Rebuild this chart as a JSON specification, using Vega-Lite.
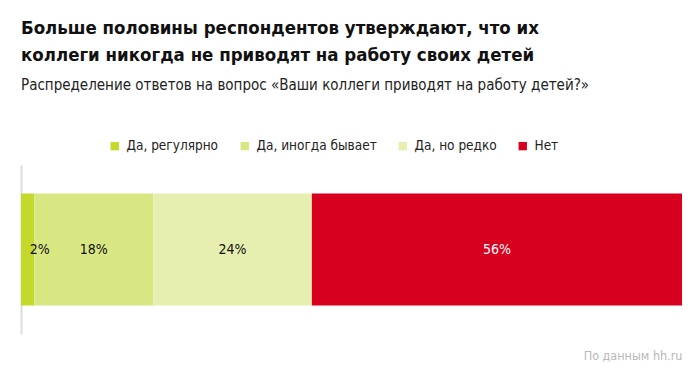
{
  "$schema": "https://vega.github.io/schema/vega-lite/v6.json",
  "width": 661,
  "height": 169,
  "autosize": {"type": "none"},
  "padding": {"left": 21, "top": 165, "right": 18, "bottom": 42},
  "background": "white",
  "config": {
    "view": {"stroke": null},
    "font": "DejaVu Sans Condensed, sans-serif"
  },
  "title": {
    "text": ["Больше половины респондентов утверждают, что их", "коллеги никогда не приводят на работу своих детей"],
    "subtitle": "Распределение ответов на вопрос «Ваши коллеги приводят на работу детей?»",
    "anchor": "start",
    "frame": "group",
    "fontSize": 18.5,
    "fontWeight": "bold",
    "lineHeight": 27,
    "color": "#111111",
    "subtitleFontSize": 15,
    "subtitleColor": "#222222",
    "subtitlePadding": 14,
    "offset": 46
  },
  "data": {
    "values": [
      {"q": "a", "answer": "Да, регулярно", "order": 1, "value": 2},
      {"q": "a", "answer": "Да, иногда бывает", "order": 2, "value": 18},
      {"q": "a", "answer": "Да, но редко", "order": 3, "value": 24},
      {"q": "a", "answer": "Нет", "order": 4, "value": 56}
    ]
  },
  "transform": [
    {"calculate": "datum.value + '%'", "as": "label"},
    {"stack": "value", "groupby": ["q"], "sort": [{"field": "order"}], "as": ["x0", "x1"]},
    {"calculate": "(datum.x0 + datum.x1) / 2", "as": "mid"}
  ],
  "encoding": {
    "y": {
      "field": "q",
      "type": "nominal",
      "scale": {"paddingInner": 0, "paddingOuter": 0.255},
      "axis": {"labels": false, "ticks": false, "title": null, "domainColor": "#dddddd", "domainWidth": 2}
    }
  },
  "layer": [
    {
      "mark": {"type": "bar"},
      "encoding": {
        "x": {
          "field": "x0",
          "type": "quantitative",
          "scale": {"domain": [0, 100], "nice": false},
          "axis": {
            "labels": false, "ticks": false, "domain": false, "grid": false,
            "title": "По данным hh.ru",
            "titleAnchor": "end",
            "titleFontSize": 12.5,
            "titleFontWeight": "normal",
            "titleColor": "#b8b8b8",
            "titlePadding": 15
          }
        },
        "x2": {"field": "x1"},
        "color": {
          "field": "answer",
          "type": "nominal",
          "sort": ["Да, регулярно", "Да, иногда бывает", "Да, но редко", "Нет"],
          "scale": {
            "domain": ["Да, регулярно", "Да, иногда бывает", "Да, но редко", "Нет"],
            "range": ["#c4d92c", "#d9e783", "#e6efb0", "#d7001e"]
          },
          "legend": {
            "orient": "none",
            "legendX": 87,
            "legendY": -26,
            "direction": "horizontal",
            "title": null,
            "symbolType": "square",
            "symbolSize": 70,
            "symbolStrokeWidth": 0,
            "labelFontSize": 13.5,
            "labelColor": "#222222",
            "labelOffset": 5,
            "columnPadding": 19,
            "labelLimit": 300
          }
        }
      }
    },
    {
      "transform": [{"filter": "datum.value >= 5"}],
      "mark": {"type": "text", "fontSize": 14},
      "encoding": {
        "x": {"field": "mid", "type": "quantitative"},
        "text": {"field": "label", "type": "nominal"},
        "color": {"condition": {"test": "datum.answer == 'Нет'", "value": "white"}, "value": "#111111"}
      }
    },
    {
      "transform": [{"filter": "datum.value < 5"}],
      "mark": {"type": "text", "fontSize": 14, "dx": 12, "color": "#111111"},
      "encoding": {
        "x": {"field": "mid", "type": "quantitative"},
        "text": {"field": "label", "type": "nominal"}
      }
    }
  ]
}
